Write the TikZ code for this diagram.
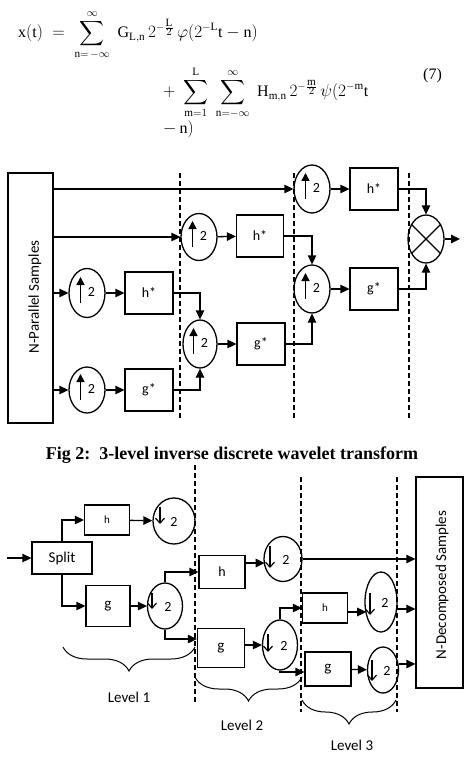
\documentclass[tikz,border=0pt]{standalone}
\usepackage{exscale}
\usepackage{fontspec}
\setmainfont{Liberation Serif}
\newfontfamily\calfont{Carlito}
\usetikzlibrary{arrows.meta,shapes.geometric,calc,decorations.pathreplacing}
\begin{document}
\begin{tikzpicture}[x=1pt,y=-1pt,
  lw/.style={line width=1.3pt},
  box/.style={draw,lw,inner sep=0pt,font=\calfont\fontsize{14}{16}\selectfont},
  circ/.style={draw,lw,ellipse,inner sep=0pt},
  arr/.style={lw,-{Triangle[length=9pt,width=8.5pt]}},
  uar/.style={line width=1.5pt,-{Triangle[length=8pt,width=8pt]}},
  dar/.style={line width=1.2pt,-{Straight Barb[length=5pt,width=9pt,line width=1.2pt]}},
  two/.style={inner sep=0pt,font=\calfont\fontsize{14}{16}\selectfont},
  dsh/.style={line width=1.1pt,dash pattern=on 5pt off 3pt},
  lbl/.style={inner sep=0pt,font=\calfont\fontsize{15}{18}\selectfont},
  eqf/.style={anchor=base west,inner sep=0pt,font=\fontsize{16}{19}\selectfont},
  brc/.style={line width=1pt,decorate,decoration={brace,mirror,amplitude=24pt}}
]
\newcommand\umark[1]{%
  \draw[uar] ($(#1)+(-6.5,10)$) -- ($(#1)+(-6.5,-16)$);
  \node[two] (#1n) at ($(#1)+(4.5,-1)$) {2};}
\newcommand\dmark[5]{%
  \draw[dar] ($(#1)+(#2,#3)$) -- ($(#1)+(#2,#4)$);
  \node[two] (#1n) at ($(#1)+(#5,1)$) {2};}
\useasboundingbox (0,0) rectangle (463,759);

% ---------- equation ----------
\node[eqf] (eq1) at (18,38)
  {$\displaystyle\mathrm{x(t)}\;=\;\sum_{\mathrm{n}=\,-\infty}^{\infty}\;\mathrm{G}_{\mathrm{L,n}}\,2^{-\frac{\scriptstyle\mathrm{L}}{\scriptstyle2}}\,\varphi(2^{-\mathrm{L}}\mathrm{t}-\mathrm{n})$};
\node[eqf] (eq2) at (163,97)
  {$\displaystyle+\;\sum_{\mathrm{m}=1}^{\mathrm{L}}\;\sum_{\mathrm{n}=-\infty}^{\infty}\;\mathrm{H}_{\mathrm{m,n}}\,2^{-\frac{\scriptstyle\mathrm{m}}{\scriptstyle2}}\,\psi(2^{-\mathrm{m}}\mathrm{t}$};
\node[eqf] (eq3) at (163,134) {$-\,\mathrm{n})$};
\node[eqf] (eqn) at (423,80) {(7)};

% ---------- top diagram ----------
\draw[dsh] (180,173) -- (180,419);
\draw[dsh] (294,173) -- (294,420);
\draw[dsh] (409,173) -- (409,420);

\node[box,minimum width=45pt,minimum height=250pt] (np) at (30.5,298) {};
\node[lbl,rotate=90] (npl) at (35,297) {N-Parallel Samples};

\node[circ,minimum width=36pt,minimum height=48pt] (u3) at (312,189) {};
\node[circ,minimum width=36pt,minimum height=47pt] (u2) at (199,237) {};
\node[circ,minimum width=36pt,minimum height=49pt] (uA) at (87,293) {};
\node[circ,minimum width=36pt,minimum height=46pt] (uB) at (87,390) {};
\node[circ,minimum width=34pt,minimum height=48pt] (u2b) at (200,344) {};
\node[circ,minimum width=36pt,minimum height=48pt] (u3b) at (312,289) {};
\umark{u3}\umark{u2}\umark{uA}\umark{uB}\umark{u2b}\umark{u3b}

\node[box,minimum width=48pt,minimum height=42pt] (hA) at (149,293) {h*};
\node[box,minimum width=48pt,minimum height=42pt] (gA) at (149,390) {g*};
\node[box,minimum width=47pt,minimum height=42pt] (hB) at (260,236) {h*};
\node[box,minimum width=48pt,minimum height=42pt] (gB) at (261,344) {g*};
\node[box,minimum width=48pt,minimum height=42pt] (hC) at (374,189) {h*};
\node[box,minimum width=48pt,minimum height=42pt] (gC) at (374,289) {g*};

\node[circ,minimum width=36pt,minimum height=48pt] (mult) at (426,239) {};
\draw[lw] (mult.45) -- (mult.225) (mult.135) -- (mult.315);
\coordinate (out) at (460,239);

\draw[arr] (np.east |- u3) -- (u3);
\draw[arr] (np.east |- u2) -- (u2);
\draw[arr] (np.east |- uA) -- (uA);
\draw[arr] (np.east |- uB) -- (uB);
\draw[arr] (uA) -- (hA);
\draw[arr] (uB) -- (gA);
\draw[arr] (hA) -| (u2b);
\draw[arr] (gA) -| (u2b);
\draw[arr] (u2b) -- (gB);
\draw[arr] (u2) -- (hB);
\draw[arr] (hB) -| (u3b);
\draw[arr] (gB) -| (u3b);
\draw[arr] (u3) -- (hC);
\draw[arr] (u3b) -- (gC);
\draw[arr] (hC) -| (mult);
\draw[arr] (gC) -| (mult);
\draw[arr] (mult) -- (out);

% ---------- caption ----------
\node[inner sep=0pt,font=\bfseries\fontsize{18}{21}\selectfont] (cap) at (232,455)
  {Fig 2:\ \ 3-level inverse discrete wavelet transform};

% ---------- bottom diagram ----------
\draw[dsh] (195,465) -- (195,702);
\draw[dsh] (301,477) -- (301,712);
\draw[dsh] (397,477) -- (397,712);

\coordinate (in) at (7,558);
\node[box,minimum width=60pt,minimum height=32pt,font=\calfont\fontsize{15}{18}\selectfont] (split) at (62,558) {Split};
\node[box,minimum width=45pt,minimum height=30pt,font=\calfont\fontsize{11}{13}\selectfont] (h1) at (107,520) {h};
\node[box,minimum width=44pt,minimum height=41pt,font=\calfont\fontsize{15}{18}\selectfont] (g1) at (108,606) {g};
\node[circ,minimum width=42pt,minimum height=46pt] (d1) at (174,521) {};
\node[circ,minimum width=35pt,minimum height=46pt] (d2) at (165,606) {};
\node[box,minimum width=46pt,minimum height=33pt,font=\calfont\fontsize{14}{16}\selectfont] (h2) at (222,572) {h};
\node[box,minimum width=47pt,minimum height=39pt,font=\calfont\fontsize{15}{18}\selectfont] (g2) at (221,648) {g};
\node[circ,minimum width=38pt,minimum height=45pt] (d3) at (283,559) {};
\node[circ,minimum width=35pt,minimum height=50pt] (d4) at (280,645) {};
\node[box,minimum width=45pt,minimum height=30pt,font=\calfont\fontsize{11}{13}\selectfont] (h3) at (325,608) {h};
\node[box,minimum width=46pt,minimum height=34pt,font=\calfont\fontsize{15}{18}\selectfont] (g3) at (328,669) {g};
\node[circ,minimum width=32pt,minimum height=60pt] (d5) at (381,602) {};
\node[circ,minimum width=31pt,minimum height=46pt] (d6) at (383,670) {};
\dmark{d1}{-14}{-14}{3}{0}
\dmark{d2}{-13}{-13}{3}{3}
\dmark{d3}{-13}{-13}{9}{3}
\dmark{d4}{-12}{-11}{7}{4}
\dmark{d5}{-11}{-9}{13}{4}
\dmark{d6}{-11}{-10}{11}{4}

\node[box,minimum width=47pt,minimum height=211pt] (nd) at (439.5,582.5) {};
\node[lbl,rotate=90] (ndl) at (442,585) {N-Decomposed Samples};

\draw[arr] (in) -- (split);
\draw[arr] (split) |- (h1);
\draw[arr] (split) |- (g1);
\draw[arr] (h1) -- (d1);
\draw[arr] (g1) -- (d2);
\draw[arr] (d2) |- (h2);
\draw[arr] (d2.south) |- ([yshift=9pt]g2.west);
\draw[arr] ([yshift=9pt]h2.east) -- ++(19,0);
\draw[arr] (d3) -- (d3 -| nd.west);
\draw[arr] ([yshift=3pt]g2.east) -- (d4);
\draw[arr] (d4) |- (h3);
\draw[arr] (d4.south) |- ([yshift=-3pt]g3.west);
\draw[arr] ([yshift=-4pt]h3.east) -- ++(18,0);
\draw[arr] ($(d5.east)+(0,7)$) -- ($(d5.east -| nd.west)+(0,7)$);
\draw[arr] (g3) -- (d6);
\draw[arr] ($(d6.east)+(0,-6)$) -- ($(d6.east -| nd.west)+(0,-6)$);

\draw[brc] (63,647) -- (195,647);
\draw[brc] (195,677) -- (302,677);
\draw[brc] (302,700) -- (396,700);
\node[lbl] (lv1) at (129,697) {Level 1};
\node[lbl] (lv2) at (242,725) {Level 2};
\node[lbl] (lv3) at (352,745) {Level 3};
\end{tikzpicture}
\end{document}
